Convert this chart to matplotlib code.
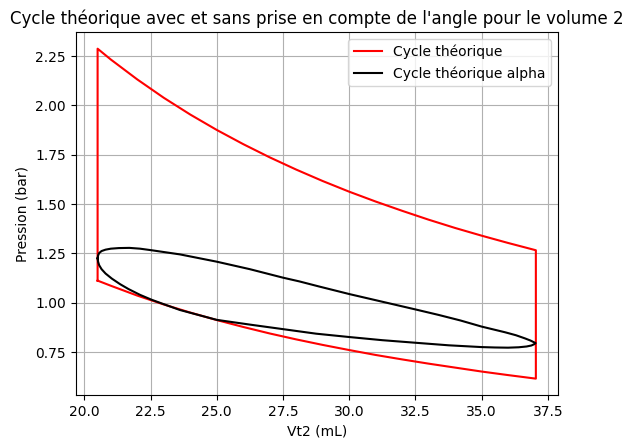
import matplotlib
matplotlib.use("Agg")
import matplotlib.pyplot as plt

# Theoretical cycle (red): volumes (mL) and pressures (bar)
hot_V = [20.5, 21.0, 22.0, 23.0, 24.0, 25.0, 26.0, 27.0, 28.0, 29.0, 30.0,
         31.0, 32.0, 33.0, 34.0, 35.0, 36.0, 37.05]
hot_P = [2.288, 2.233, 2.132, 2.039, 1.954, 1.876, 1.804, 1.737, 1.675, 1.617,
         1.563, 1.513, 1.466, 1.421, 1.379, 1.340, 1.303, 1.266]
cold_V = [37.05, 36.0, 35.0, 34.0, 33.0, 32.0, 31.0, 30.0, 29.0, 28.0, 27.0,
          26.0, 25.0, 24.0, 23.0, 22.0, 21.0, 20.5]
cold_P = [0.615, 0.633, 0.651, 0.671, 0.691, 0.7125, 0.735, 0.760, 0.786, 0.814,
          0.844, 0.877, 0.912, 0.950, 0.991, 1.036, 1.086, 1.112]

# Theoretical cycle with phase angle alpha (black loop)
alpha_V = [20.50, 20.52, 20.56, 20.65, 20.80, 21.00, 21.30, 21.70, 22.10, 22.54,
           23.61, 25.00, 26.25, 27.50, 28.12, 28.87, 30.00, 31.25, 32.50, 33.38,
           34.20, 35.00, 35.89, 36.30, 36.64, 36.85, 36.97, 37.04,
           36.98, 36.88, 36.70, 36.40, 36.00, 35.50, 35.00, 33.76, 32.50, 31.25,
           30.00, 28.75, 27.50, 26.25, 25.00, 23.61, 23.05, 22.54, 22.10, 21.67,
           21.35, 21.04, 20.80, 20.65, 20.56, 20.52, 20.50]
alpha_P = [1.225, 1.240, 1.252, 1.262, 1.269, 1.274, 1.277, 1.278, 1.274, 1.266,
           1.245, 1.208, 1.170, 1.127, 1.108, 1.082, 1.044, 1.005, 0.966, 0.938,
           0.910, 0.879, 0.850, 0.835, 0.819, 0.808, 0.800, 0.795,
           0.789, 0.783, 0.778, 0.774, 0.772, 0.773, 0.775, 0.784, 0.797, 0.810,
           0.826, 0.843, 0.866, 0.889, 0.913, 0.963, 0.990, 1.015, 1.040, 1.069,
           1.094, 1.122, 1.148, 1.170, 1.190, 1.207, 1.225]

red_V = [cold_V[-1]] + hot_V + cold_V
red_P = [cold_P[-1]] + hot_P + cold_P

fig = plt.figure(figsize=(6.36, 4.41), dpi=100)
ax = fig.add_axes([0.119, 0.104, 0.758, 0.823])
ax.plot(red_V, red_P, color="red", lw=1.5, label="Cycle théorique")
ax.plot(alpha_V, alpha_P, color="black", lw=1.5, label="Cycle théorique alpha")
ax.set_xticks([20.0, 22.5, 25.0, 27.5, 30.0, 32.5, 35.0, 37.5])
ax.set_yticks([0.75, 1.00, 1.25, 1.50, 1.75, 2.00, 2.25])
ax.set_xlabel("Vt2 (mL)")
ax.set_ylabel("Pression (bar)")
ax.set_title("Cycle théorique avec et sans prise en compte de l'angle pour le volume 2")
ax.grid(True)
ax.legend(loc="upper right")
fig.savefig("out.png", dpi=100)
